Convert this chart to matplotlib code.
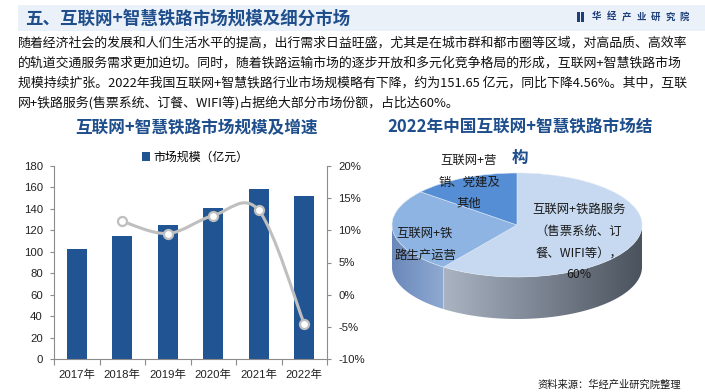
import numpy as np
import matplotlib
matplotlib.use("Agg")
import matplotlib.pyplot as plt
from matplotlib.path import Path
from matplotlib.patches import PathPatch, Rectangle, Polygon
from matplotlib.colors import LinearSegmentedColormap

plt.rcParams['font.family'] = ['Noto Sans CJK SC', 'DejaVu Sans']

# ---------------- data ----------------
years = ["2017年", "2018年", "2019年", "2020年", "2021年", "2022年"]
market_size = [102.6, 114.5, 125.0, 140.8, 158.9, 151.65]
growth_years = ["2018年", "2019年", "2020年", "2021年", "2022年"]
growth_rate = [11.4, 9.5, 12.3, 13.1, -4.56]
left_ticks = [0, 20, 40, 60, 80, 100, 120, 140, 160, 180]
right_ticks = [-10, -5, 0, 5, 10, 15, 20]

pie_labels = ["互联网+铁路服务\n（售票系统、订\n餐、WIFI等），\n60%",
              "互联网+铁\n路生产运营",
              "互联网+营\n销、党建及\n其他"]
pie_shares = [60, 26, 14]

title_main = "五、互联网+智慧铁路市场规模及细分市场"
body_lines = [
    "随着经济社会的发展和人们生活水平的提高，出行需求日益旺盛，尤其是在城市群和都市圈等区域，对高品质、高效率",
    "的轨道交通服务需求更加迫切。同时，随着铁路运输市场的逐步开放和多元化竞争格局的形成，互联网+智慧铁路市场",
    "规模持续扩张。2022年我国互联网+智慧铁路行业市场规模略有下降，约为151.65 亿元，同比下降4.56%。其中，互联",
    "网+铁路服务(售票系统、订餐、WIFI等)占据绝大部分市场份额，占比达60%。",
]
left_title = "互联网+智慧铁路市场规模及增速"
right_title = ["2022年中国互联网+智慧铁路市场结", "构"]
legend_label = "市场规模（亿元）"
source_text = "资料来源：华经产业研究院整理"
logo_text = "华经产业研究院"

# ---------------- figure ----------------
W, H = 705, 392
fig = plt.figure(figsize=(W / 100, H / 100), dpi=100)
fig.patch.set_facecolor("white")


def fx(x):
    return x / W


def fy(y):
    return 1 - y / H


DARK_BLUE = "#1f4e8c"
BAR_BLUE = "#215493"

# header band
fig.patches.append(Rectangle((fx(18), fy(31)), fx(W - 18), 26 / H,
                             transform=fig.transFigure, facecolor="#ebf1f9",
                             edgecolor="none", zorder=0))
fig.text(fx(25), fy(19), title_main, fontsize=12.6, fontweight="bold",
         color=DARK_BLUE, va="center", ha="left")
# logo
fig.patches.append(Rectangle((fx(577), fy(21.5)), 2.5 / W, 10 / H,
                             transform=fig.transFigure, facecolor="#1f3f7a", edgecolor="none"))
fig.patches.append(Rectangle((fx(581), fy(21.5)), 2.5 / W, 10 / H,
                             transform=fig.transFigure, facecolor="#1f3f7a", edgecolor="none"))
for i, ch in enumerate(logo_text):
    fig.text(fx(597 + i * 14.6), fy(16.5), ch, fontsize=6.8, fontweight="bold",
             color="#1f3f7a", va="center", ha="center")

# body text
for yy, line in zip([43, 63.5, 83.5, 103], body_lines):
    fig.text(fx(18), fy(yy), line, fontsize=9.3, color="#111111",
             va="center", ha="left")

# ---------------- bar + line chart ----------------
fig.text(fx(196), fy(128), left_title, fontsize=12, fontweight="bold",
         color=DARK_BLUE, ha="center", va="center")

ax = fig.add_axes([fx(54), fy(359), (327 - 54) / W, (359 - 166) / H])
x = np.arange(len(years))
bars = ax.bar(x, market_size, width=0.44, color=BAR_BLUE, zorder=2,
              label=legend_label)
ax.set_xlim(-0.5, len(years) - 0.5)
ax.set_ylim(0, 180)
ax.set_yticks(left_ticks)
ax.set_xticks(x)
ax.set_xticklabels(years)
ax.set_xticks(np.arange(-0.5, len(years), 1.0), minor=True)
ax.tick_params(axis="x", which="major", length=0, pad=7.5, labelsize=8.2,
               colors="#222222")
ax.tick_params(axis="x", which="minor", length=4, color="#8c8c8c", width=0.8)
ax.tick_params(axis="y", length=3, pad=5, labelsize=8.2, color="#8c8c8c",
               width=0.8, labelcolor="#222222")
for s in ["top", "right"]:
    ax.spines[s].set_visible(False)
for s in ["left", "bottom"]:
    ax.spines[s].set_color("#8c8c8c")
    ax.spines[s].set_linewidth(0.8)

ax2 = ax.twinx()
ax2.set_ylim(-10, 20)
ax2.set_yticks(right_ticks)
ax2.set_yticklabels([f"{t}%" for t in right_ticks])
ax2.tick_params(axis="y", length=3, pad=5, labelsize=8.2, color="#8c8c8c",
                width=0.8, labelcolor="#222222")
for s in ["top", "left", "bottom"]:
    ax2.spines[s].set_visible(False)
ax2.spines["right"].set_color("#8c8c8c")
ax2.spines["right"].set_linewidth(0.8)

for lab in ax.get_xticklabels() + ax.get_yticklabels() + ax2.get_yticklabels():
    lab.set_fontfamily(["Liberation Sans", "Noto Sans CJK SC"])

# smoothed growth line (Bezier through the data points)
gx = np.array([years.index(g) for g in growth_years], dtype=float)
gy = np.array(growth_rate, dtype=float)
pts = np.column_stack([gx, gy])
verts = [tuple(pts[0])]
codes = [Path.MOVETO]
n = len(pts)
for i in range(n - 1):
    p0 = pts[i - 1] if i > 0 else pts[i]
    p1 = pts[i]
    p2 = pts[i + 1]
    p3 = pts[i + 2] if i + 2 < n else pts[i + 1]
    c1 = p1 + (p2 - p0) / 6.0
    c2 = p2 - (p3 - p1) / 6.0
    verts += [tuple(c1), tuple(c2), tuple(p2)]
    codes += [Path.CURVE4] * 3
ax2.add_patch(PathPatch(Path(verts, codes), fill=False, edgecolor="#bfbfbf",
                        lw=2.2, zorder=3))
ax2.plot(gx, gy, "o", ms=6.5, mfc="white", mec="#bfbfbf", mew=1.6, zorder=4)

fig.legend(handles=[bars], labels=[legend_label], loc="center",
           bbox_to_anchor=(fx(195), fy(157)), frameon=False, fontsize=8.6,
           handlelength=0.75, handleheight=0.75, handletextpad=0.25,
           borderaxespad=0, borderpad=0)

# ---------------- 3D-looking pie ----------------
fig.text(fx(520), fy(127), right_title[0], fontsize=12, fontweight="bold",
         color=DARK_BLUE, ha="center", va="center")
fig.text(fx(520), fy(158), right_title[1], fontsize=12, fontweight="bold",
         color=DARK_BLUE, ha="center", va="center")

axp = fig.add_axes([fx(392), fy(340), 250 / W, 180 / H])
top_colors = ["#c6d9f0", "#8db4e2", "#558ed5"]
side_colors = [("#a9b3c2", "#4a525d"), ("#6a88ba", "#8faad2"), ("#3f6fb0", "#4f7fc0")]
wedges, _ = axp.pie(pie_shares, colors=top_colors, startangle=90,
                    counterclock=False, radius=1,
                    wedgeprops=dict(linewidth=0.4, edgecolor="#dfe8f4", zorder=3))
axp.axis("off")

depth = 42 / 52.0
for w, (c_left, c_right) in zip(wedges, side_colors):
    t1, t2 = w.theta1, w.theta2
    for shift in (0, 360, -360):
        a = max(t1 + shift, -180)
        b = min(t2 + shift, 0)
        if b - a <= 0.01:
            continue
        th = np.radians(np.linspace(a, b, 80))
        top = np.column_stack([np.cos(th), np.sin(th)])
        bot = np.column_stack([np.cos(th[::-1]), np.sin(th[::-1]) - depth])
        poly = Polygon(np.vstack([top, bot]), closed=True, facecolor="none",
                       edgecolor="none", zorder=1)
        axp.add_patch(poly)
        xmin, xmax = np.cos(th).min(), np.cos(th).max()
        cmap = LinearSegmentedColormap.from_list("g", [c_left, c_right])
        im = axp.imshow(np.linspace(0, 1, 256).reshape(1, -1), cmap=cmap,
                        extent=[xmin, xmax, -1 - depth, 0.1], aspect="auto",
                        zorder=1, interpolation="bilinear")
        im.set_clip_path(poly)
axp.set_xlim(-1.0, 1.0)
axp.set_ylim(-115 / 52.0, 65 / 52.0)
axp.set_aspect("auto")

label_pos = [(579, [209, 231, 253, 275]), (425, [233, 255]), (469, [160, 182, 203])]
for text, (cx, ys) in zip(pie_labels, label_pos):
    for yy, line in zip(ys, text.split("\n")):
        fig.text(fx(cx), fy(yy), line, fontsize=8.9, color="#1a1a1a",
                 ha="center", va="center")

fig.text(fx(681), fy(385), source_text, fontsize=7.4, color="#1a1a1a",
         ha="right", va="center")

fig.savefig("out.png", dpi=100)
